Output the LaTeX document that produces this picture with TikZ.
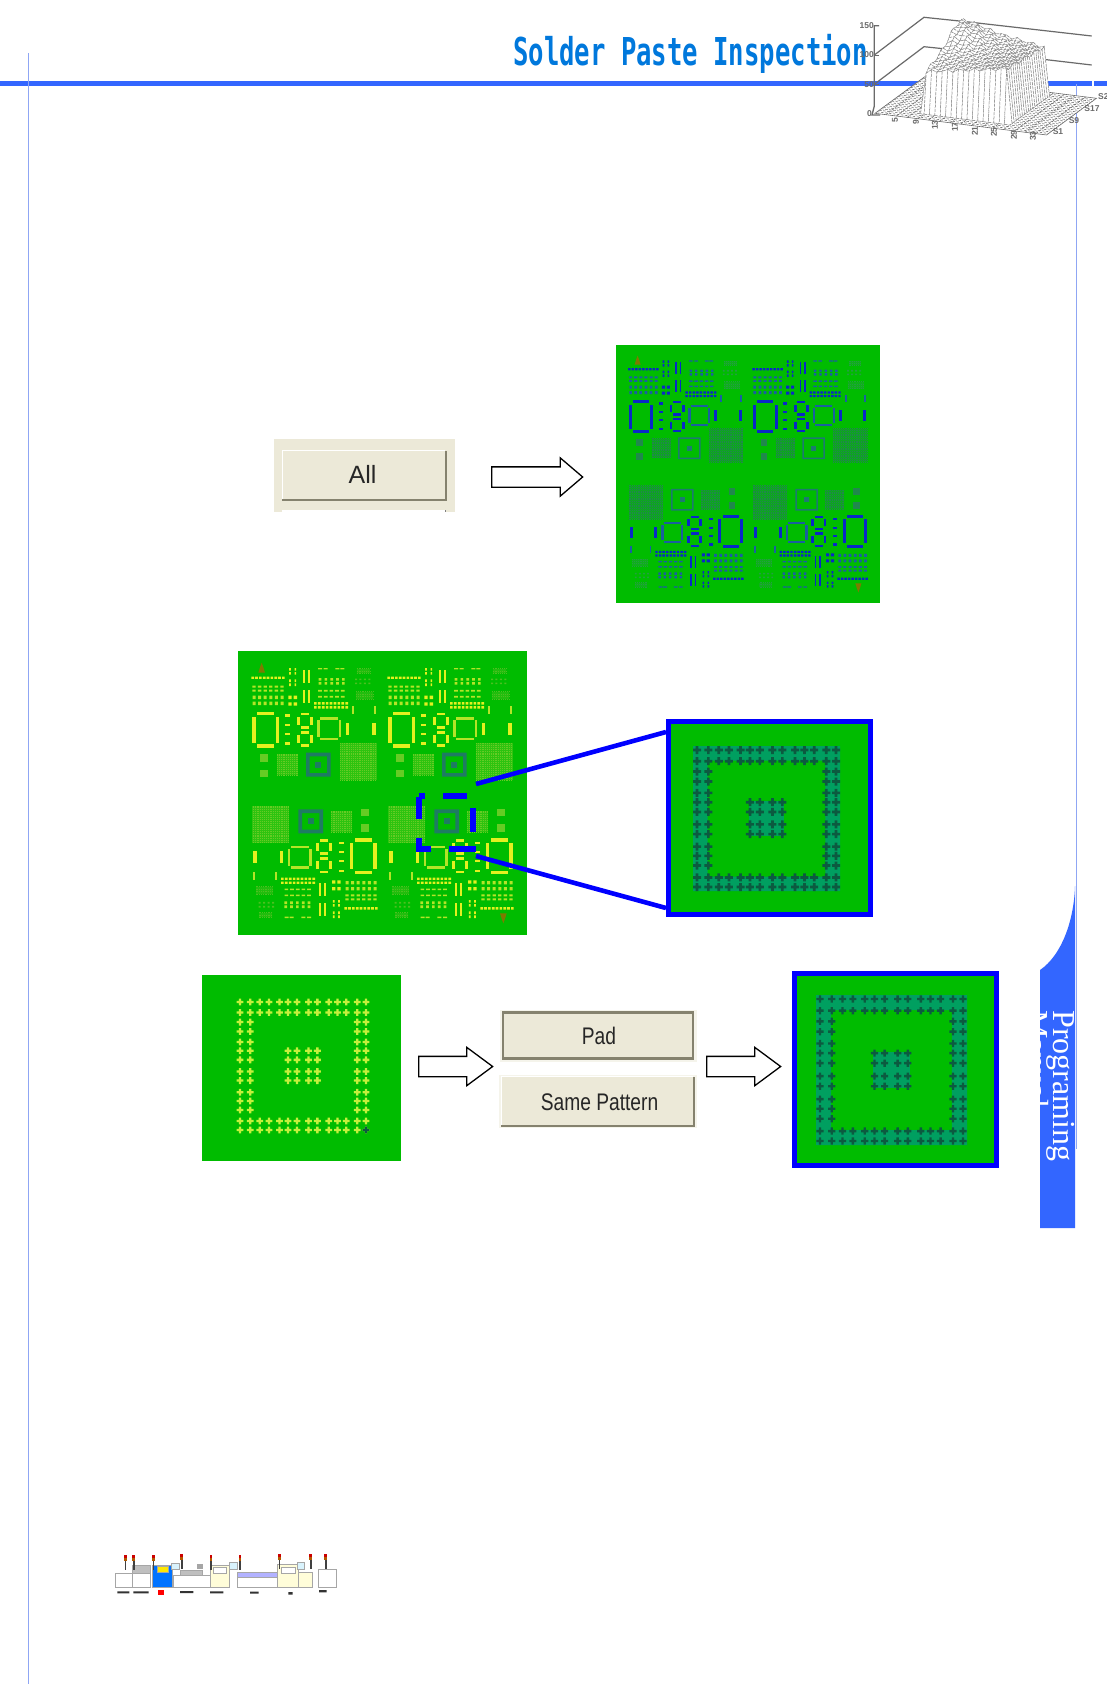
\documentclass[tikz,border=0pt]{standalone}
\usepackage{fontspec}
\setmainfont{Liberation Sans}
\newfontfamily\tabfont{Liberation Serif}
\newfontfamily\titlefont{DejaVu Sans Mono Bold}
\usetikzlibrary{shapes.arrows}
\definecolor{pcbgreen}{HTML}{00BC00}
\definecolor{panel}{HTML}{ECE9D8}
\definecolor{btndark}{HTML}{85826E}
\definecolor{hdrblue}{HTML}{3366FF}
\definecolor{thinblue}{HTML}{8FA6F4}
\definecolor{zoomblue}{HTML}{0000FF}
\definecolor{titleblue}{HTML}{0078DC}
\definecolor{plotgray}{HTML}{6A6A6A}
\definecolor{fid}{HTML}{7E7A00}
\tikzset{
  pcbbg/.style={fill=pcbgreen,draw=none,inner sep=0pt,anchor=north west},
  blockarrow/.style={single arrow,draw=black,line width=1.3pt,fill=white,inner xsep=0pt,inner ysep=9.5pt,minimum width=37pt,single arrow head extend=9pt,anchor=tail},
  zoomline/.style={draw=zoomblue,line width=4.6pt},
  btnpanel/.style={fill=panel,draw=none,inner sep=0pt,anchor=north west},
  btnface/.style={fill=panel,draw=none,inner sep=0pt},
  btntext/.style={inner sep=0pt,font=\fontsize{24}{24}\selectfont,text=black!85,xscale=0.8},
  plotlab/.style={inner sep=0pt,font=\fontsize{8.5}{9}\selectfont\bfseries,text=plotgray},
  thinrule/.style={draw=thinblue,line width=0.7pt},
}
% ---- PCB helpers (coordinates in 1/3 pixels of the large board)
\newcommand\drow[7]{% colour x0 x1 n y w h
  \fill[#1] \foreach \k in {1,...,#4}{ ({#2+(#3-#2)*(\k-1)/max(#4-1,1)-#6/2},{#5-#7/2}) rectangle ++(#6,#7) };}
\newcommand\dcol[7]{% colour x y0 y1 n w h
  \fill[#1] \foreach \k in {1,...,#5}{ ({#2-#6/2},{#3+(#4-#3)*(\k-1)/max(#5-1,1)-#7/2}) rectangle ++(#6,#7) };}
\newcommand\dgridpat[6]{% colour x0 x1 y0 y1 nrows
  \fill[#1,opacity=0.45] (#2,#4) rectangle (#3,#5);
  \foreach \k in {1,...,#6}{\draw[#1,line width=0.9pt,dash pattern=on 1pt off 0.85pt] ({#2},{#4+(#5-#4)*(\k-1)/(#6-1)}) -- ({#3},{#4+(#5-#4)*(\k-1)/(#6-1)});}}
\newcommand\brect[5]{\fill[#1] (#2,#3) rectangle (#4,#5);}
\newcommand\pcbquad{%
  \drow{pmain}{68}{160}{9}{113}{8}{7}
  \dcol{pmain}{180}{88}{100}{2}{5}{8}\dcol{pmain}{196}{88}{100}{2}{5}{8}
  \dcol{pmain}{180}{122}{134}{2}{5}{8}\dcol{pmain}{196}{122}{134}{2}{5}{8}
  \drow{pmain}{180}{196}{2}{172}{10}{10}\drow{pmain}{180}{196}{2}{192}{10}{10}
  \brect{pmain}{219}{90}{225}{128}\brect{pmain}{233}{90}{239}{128}
  \brect{pmain}{219}{150}{225}{188}\brect{pmain}{233}{150}{239}{188}
  \drow{pmid}{270}{287}{2}{86}{12}{4}\drow{pmid}{322}{337}{2}{86}{12}{4}
  \drow{pmid}{270}{340}{5}{118}{8}{8}\drow{pmid}{270}{340}{5}{130}{8}{8}
  \drow{pmid}{270}{338}{5}{152}{11}{5}\drow{pmid}{270}{338}{5}{170}{11}{5}
  \drow{pmain}{256}{350}{9}{190}{8}{7}\drow{pmain}{256}{350}{9}{202}{8}{7}
  \drow{pmid}{72}{156}{6}{140}{10}{6}\drow{pmid}{72}{156}{6}{152}{10}{6}
  \drow{pmid}{72}{156}{6}{172}{9}{10}\drow{pmid}{72}{156}{6}{190}{9}{10}
  \dgridpat{pfaint}{380}{420}{86}{100}{3}
  \drow{pfaint}{378}{418}{4}{118}{6}{5}\drow{pfaint}{378}{418}{4}{130}{6}{5}
  \dgridpat{pfaint}{378}{430}{155}{178}{4}
  \brect{pmid}{367}{198}{373}{222}\brect{pmid}{432}{198}{438}{222}
  % big O
  \brect{pmain}{67}{230}{77}{310}\brect{pmain}{137}{230}{147}{310}
  \brect{pmain}{80}{216}{132}{226}\brect{pmain}{80}{313}{132}{323}
  \drow{pmain}{172}{172}{1}{226}{14}{7}\drow{pmain}{172}{172}{1}{255}{14}{7}
  \drow{pmain}{172}{172}{1}{282}{14}{7}\drow{pmain}{172}{172}{1}{310}{14}{7}
  % figure 8
  \brect{pmain}{212}{218}{236}{226}\brect{pmain}{201}{230}{209}{255}\brect{pmain}{241}{230}{249}{255}
  \brect{pmain}{212}{259}{236}{266}\brect{pmain}{212}{274}{236}{281}
  \brect{pmain}{201}{286}{209}{310}\brect{pmain}{241}{286}{249}{310}\brect{pmain}{212}{313}{236}{321}
  % rounded square
  \brect{pmid}{271}{232}{325}{239}\brect{pmid}{271}{294}{325}{301}
  \brect{pmid}{262}{241}{269}{292}\brect{pmid}{327}{241}{334}{292}
  \brect{pmain}{347}{248}{357}{285}\brect{pmain}{427}{248}{437}{285}
  % lower row
  \brect{plight}{91}{343}{113}{365}\brect{plight}{91}{390}{113}{412}
  \dgridpat{plight}{141}{205}{342}{405}{12}
  \fill[pring,even odd rule] (228,338) rectangle (302,410) ({228+\ringw},{338+\ringw}) rectangle ({302-\ringw},{410-\ringw});
  \brect{pring}{256}{365}{274}{383}
  \dgridpat{plight}{330}{440}{310}{420}{20}
}
\newcommand\pcbfid{\fill[fid] (95,68)--(100,82)--(105,98)--(85,98)--(90,82)--cycle;}
\newcommand\pcbpair{\pcbquad\begin{scope}[xshift=408*1pt]\pcbquad\end{scope}}
\newcommand\pcbart[2]{% width height; origin is current position
  \begin{scope}[xscale=#1/867,yscale=#2/852,shift={(-24,-33)}]
    \pcbpair\pcbfid
    \begin{scope}[rotate around={180:(457.5,459)}]\pcbpair\pcbfid\end{scope}
  \end{scope}}
% ---- pad pattern
\newcommand\padp[2]{%
  \fill[padc,shift={({\pxa+(\pxb-\pxa)*#1},{\pya+(\pyb-\pya)*#2})}]
     (-\padh,-\padh/3) rectangle (\padh,\padh/3) (-\padh/3,-\padh) rectangle (\padh/3,\padh);}
\newcommand\padpat[5]{% x0 y0 x1 y1 halfsize
  \def\pxa{#1}\def\pya{#2}\def\pxb{#3}\def\pyb{#4}\def\padh{#5}
  \foreach \r in {0,.082,.93,1}{\foreach \c in {0,.082,.157,.23,.313,.381,.452,.543,.614,.705,.773,.843,.93,1}{\padp{\c}{\r}}}
  \foreach \r in {.157,.23,.313,.381,.452,.543,.614,.705,.773,.843}{\foreach \c in {0,.082,.93,1}{\padp{\c}{\r}}}
  \foreach \r in {.381,.452,.543,.614}{\foreach \c in {.381,.452,.543,.614}{\padp{\c}{\r}}}
}
\newcommand\padback[5]{% colour x0 y0 x1 y1
  \fill[#1,even odd rule] (#2,#3) rectangle (#4,#5)
    ({#2+(#4-#2)*.1},{#3+(#5-#3)*.1}) rectangle ({#2+(#4-#2)*.9},{#3+(#5-#3)*.9});
  \fill[#1] ({#2+(#4-#2)*.38},{#3+(#5-#3)*.38}) rectangle ({#2+(#4-#2)*.62},{#3+(#5-#3)*.62});}
% ---- plot
\newcommand\pp[3]{({875+5.36*(#1)+2.08*(#2)},{113.3+0.677*(#1)-1.528*(#2)-(#3)})}
% ---- logo
\newcommand\lbox[5]{\fill[#1] (#2,#3) rectangle (#4,#5);\draw[black!35,line width=0.3pt] (#2,#3) rectangle (#4,#5);}
\newcommand\ltower[2]{\fill[black!75] ({#1-2.5},{#2+18}) rectangle ({#1+2.5},{#2+45});\fill[red!80!black] ({#1-4},#2) rectangle ({#1+4},{#2+8});\fill[orange!70!black] ({#1-4},{#2+8}) rectangle ({#1+4},{#2+18});}
\begin{document}
\begin{tikzpicture}[x=1pt,y=-1pt,
  declare function={hgt(\a,\b)=(\a>=8)*(\a<=23)*(\b>=4)*(\b<=22)*((1-(\b-4)/18)*(41+13*(\a-8)/15)+((\b-4)/18)*(62-14*(\a-8)/15)+8*exp(-((\a-9)^2/12+(\b-18)^2/18))+1.8*sin(\a*137+\b*71));}]
\useasboundingbox (0,0) rectangle (1107,1684);
\fill[white] (0,0) rectangle (1107,1684);
% ---------- page furniture
\fill[hdrblue] (0,80.5) rectangle (1092,86);
\fill[hdrblue] (1094,80.5) rectangle (1107,86);
\draw[thinrule] (28,53) -- (28,1684);
\draw[thinrule] (1076,84) -- (1076,1149);
% side tab
\fill[hdrblue] (1075,886) .. controls (1074,920) and (1062,955) .. (1040,970) -- (1040,1228) -- (1075,1228) -- cycle;
\begin{scope}
  \clip (1075,886) .. controls (1074,920) and (1062,955) .. (1040,970) -- (1040,1228) -- (1075,1228) -- cycle;
  \node[rotate=-90,anchor=base west,inner sep=0pt,text=white,font=\tabfont\fontsize{32}{32}\selectfont] (tabprog) at (1053.5,1010) {Programing};
  \node[rotate=-90,anchor=base west,inner sep=0pt,text=white,font=\tabfont\fontsize{32}{32}\selectfont] (tabman) at (1026,1010) {Manual};
\end{scope}
% title
\node[anchor=base west,inner sep=0pt,text=titleblue,font=\titlefont\fontsize{25.6}{26}\selectfont,yscale=1.5] (title) at (513,65) {Solder Paste Inspection};
% ---------- 3-D plot in the header
\begin{scope}
\draw[plotgray,line width=1.2pt] (874.3,55) -- (924,17.3) -- (966,21.7) -- (1091.7,36);
\draw[plotgray,line width=1.2pt] (874.3,84.3) -- (924,46.7) -- (1032,58) -- (1091.7,65);
\draw[plotgray,line width=1.3pt] (879,25.7) -- (874.3,25.7) -- (874.3,106) -- (872,115) -- (880,115);
\draw[plotgray,line width=1pt] (874.3,55) -- (879,55) (874.3,84.3) -- (879,84.3);
\filldraw[fill=white,draw=plotgray,line width=0.6pt] \pp{0}{0}{0} -- \pp{32}{0}{0} -- \pp{32}{24}{0} -- \pp{0}{24}{0} -- cycle;
\foreach \i in {2,4,...,30}{\draw[plotgray,line width=0.55pt,dash pattern=on 2.4pt off 1.6pt] \pp{\i}{0}{0} -- \pp{\i}{24}{0};}
\foreach \j in {1,2,...,23}{\draw[plotgray,line width=0.55pt,dash pattern=on 2.4pt off 1.6pt] \pp{0}{\j}{0} -- \pp{32}{\j}{0};}
\foreach \j in {22,21,...,3}{\foreach \i in {7,...,23}{
  \filldraw[fill=white,draw=plotgray!80,line width=0.5pt,dash pattern=on 3pt off 1.2pt]
    \pp{\i}{\j}{hgt(\i,\j)} -- \pp{\i+1}{\j}{hgt(\i+1,\j)} -- \pp{\i+1}{\j+1}{hgt(\i+1,\j+1)} -- \pp{\i}{\j+1}{hgt(\i,\j+1)} -- cycle;}}
\node[plotlab,anchor=east] (p150) at (874,25.7) {150};
\node[plotlab,anchor=east] (p100) at (874,55) {100};
\node[plotlab,anchor=east] (p50) at (874,84.3) {50};
\node[plotlab,anchor=east] (p0) at (872,114) {0};
\node[plotlab,rotate=90] (l5) at (895,120) {5};
\node[plotlab,rotate=90] (l9) at (916,122) {9};
\node[plotlab,rotate=90] (l13) at (935,125) {13};
\node[plotlab,rotate=90] (l17) at (955,127) {17};
\node[plotlab,rotate=90] (l21) at (975,131) {21};
\node[plotlab,rotate=90] (l25) at (994,132) {25};
\node[plotlab,rotate=90] (l29) at (1014,135) {29};
\node[plotlab,rotate=90] (l33) at (1033,136) {33};
\node[plotlab] (s1) at (1058,132) {S1};
\node[plotlab] (s9) at (1074,121) {S9};
\node[plotlab] (s17) at (1092,109) {S17};
\node[plotlab,anchor=west] (s25) at (1098,97) {S25};
\end{scope}
% ---------- row 1: All button -> board
\node[btnpanel,minimum width=181pt,minimum height=73pt] (allpanel) at (274,439) {};
\fill[white] (282,510) rectangle (446,512.2);
\fill[black!50] (444.5,510) rectangle (446,512);
\node[btnface,anchor=north west,minimum width=164pt,minimum height=50pt] (allbtn) at (282,450) {};
\draw[white,line width=1.5pt] (282.5,499) -- (282.5,450.7) -- (445,450.7);
\draw[btndark,line width=2pt] (282,500) -- (445.5,500) -- (445.5,451);
\node[inner sep=0pt,font=\fontsize{25}{25}\selectfont,text=black!85] (alltxt) at (362.5,474) {All};
\node[blockarrow,minimum height=91pt,single arrow tip angle=81] (arrowA) at (491,477) {};
\node[pcbbg,minimum width=264pt,minimum height=258pt] (board1) at (616,345) {};
\begin{scope}[shift={(616,345)}]
  \def\ringw{5}
  \definecolor{pmain}{HTML}{0A28C8}\definecolor{pmid}{HTML}{1A5FA0}\definecolor{plight}{HTML}{20884C}\definecolor{pring}{HTML}{1C7A70}\definecolor{pfaint}{HTML}{22A040}
  \pcbart{264}{258}
\end{scope}
% ---------- row 2: board with selection and enlargement
\node[pcbbg,minimum width=289pt,minimum height=284pt] (board2) at (238,651) {};
\begin{scope}[shift={(238,651)}]
  \def\ringw{11}
  \definecolor{pmain}{HTML}{E4F020}\definecolor{pmid}{HTML}{B4E428}\definecolor{plight}{HTML}{66CC24}\definecolor{pring}{HTML}{1E7C62}\definecolor{pfaint}{HTML}{4CC020}
  \pcbart{289}{284}
\end{scope}
\draw[zoomblue,line width=6pt]
  (419,796) -- (425,796)  (443.3,796) -- (466.7,796)
  (473,808) -- (473,832)
  (416,849) -- (431,849)  (449,849) -- (476,849)
  (419,797) -- (419,819)  (419,838) -- (419,852);
\coordinate (selUp) at (476,784);
\coordinate (selLow) at (476,856);
\node[draw=zoomblue,line width=5pt,fill=pcbgreen,inner sep=0pt,minimum width=202pt,minimum height=193pt,anchor=north west] (zoombox) at (666,719) {};
\coordinate (boxUp) at (666,732);
\coordinate (boxLow) at (666,908);
\draw[zoomline] (selUp) -- (boxUp);
\draw[zoomline] (selLow) -- (boxLow);
\padback{teal!75!green}{693}{746}{840}{891}
\definecolor{padc}{HTML}{0C5A40}
\padpat{697}{750}{836}{887}{4}
% ---------- row 3: board detail -> buttons -> result
\node[pcbbg,minimum width=199pt,minimum height=186pt] (board3) at (202,975) {};
\definecolor{padc}{HTML}{C4F03C}
\padpat{240}{1002}{366}{1130}{3.4}
\definecolor{padc}{HTML}{0C5A40}
\padp{1}{1}
\node[blockarrow,minimum height=74pt,single arrow tip angle=73] (arrowB) at (418,1066.5) {};
\node[btnpanel,minimum width=197pt,minimum height=52pt,fill=panel!50!white] (padpanel) at (500,1010) {};
\node[btnface,draw=btndark,line width=2.2pt,minimum width=190pt,minimum height=46pt] (padbtn) at (598,1035.5) {};
\node[btntext] (padtxt) at (599,1036) {Pad};
\node[btnpanel,minimum width=198pt,minimum height=53pt,fill=panel!50!white] (samepanel) at (499,1075) {};
\node[btnface,anchor=north west,minimum width=192pt,minimum height=50pt] (samebtn) at (501,1076) {};
\draw[white,line width=1.2pt] (501.5,1125) -- (501.5,1076.6) -- (693,1076.6);
\draw[btndark,line width=2pt] (501,1126) -- (693.5,1126) -- (693.5,1077);
\node[btntext] (sametxt) at (599.5,1102) {Same Pattern};
\node[blockarrow,minimum height=74pt,single arrow tip angle=73] (arrowC) at (706,1066.5) {};
\node[draw=zoomblue,line width=4.6pt,fill=pcbgreen,inner sep=0pt,minimum width=202.4pt,minimum height=192.4pt,anchor=north west] (resultbox) at (792,971) {};
\padback{teal!75!green}{816}{995}{967}{1145}
\padpat{820}{999}{963}{1141}{3.6}
% ---------- machine line at the bottom
\begin{scope}[shift={(100,1540)},xscale=1/3,yscale=1/3]
  \lbox{white}{45}{100}{95}{140}
  \lbox{white}{97}{100}{150}{140}\lbox{black!25}{97}{76}{150}{100}
  \lbox{blue!55!cyan}{155}{75}{215}{140}\lbox{yellow!90!orange}{170}{78}{205}{95}
  \lbox{white}{218}{105}{330}{140}\lbox{black!25}{240}{90}{305}{105}\lbox{cyan!15}{212}{68}{238}{88}\lbox{black!35}{292}{72}{305}{84}
  \lbox{yellow!15}{330}{75}{388}{140}\lbox{white}{340}{80}{378}{100}
  \lbox{cyan!15}{388}{66}{412}{88}
  \lbox{white}{410}{110}{530}{140}\lbox{blue!30}{410}{97}{530}{110}
  \lbox{yellow!15}{532}{72}{595}{140}\lbox{white}{542}{80}{585}{100}\lbox{cyan!15}{590}{66}{612}{86}
  \lbox{yellow!15}{595}{95}{637}{140}
  \lbox{white}{655}{88}{707}{140}
  \ltower{76}{45}\ltower{101}{45}\ltower{160}{45}\ltower{245}{42}\ltower{333}{45}\ltower{420}{45}\ltower{538}{42}\ltower{632}{42}\ltower{677}{42}
  \fill[red] (175,150) rectangle (191,165);
  \fill[black!80] (52,154) rectangle (88,160) (100,154) rectangle (146,160) (240,153) rectangle (280,159)
     (330,154) rectangle (370,160) (450,155) rectangle (476,161) (565,156) rectangle (578,164) (657,150) rectangle (680,157);
\end{scope}
\end{tikzpicture}
\end{document}
